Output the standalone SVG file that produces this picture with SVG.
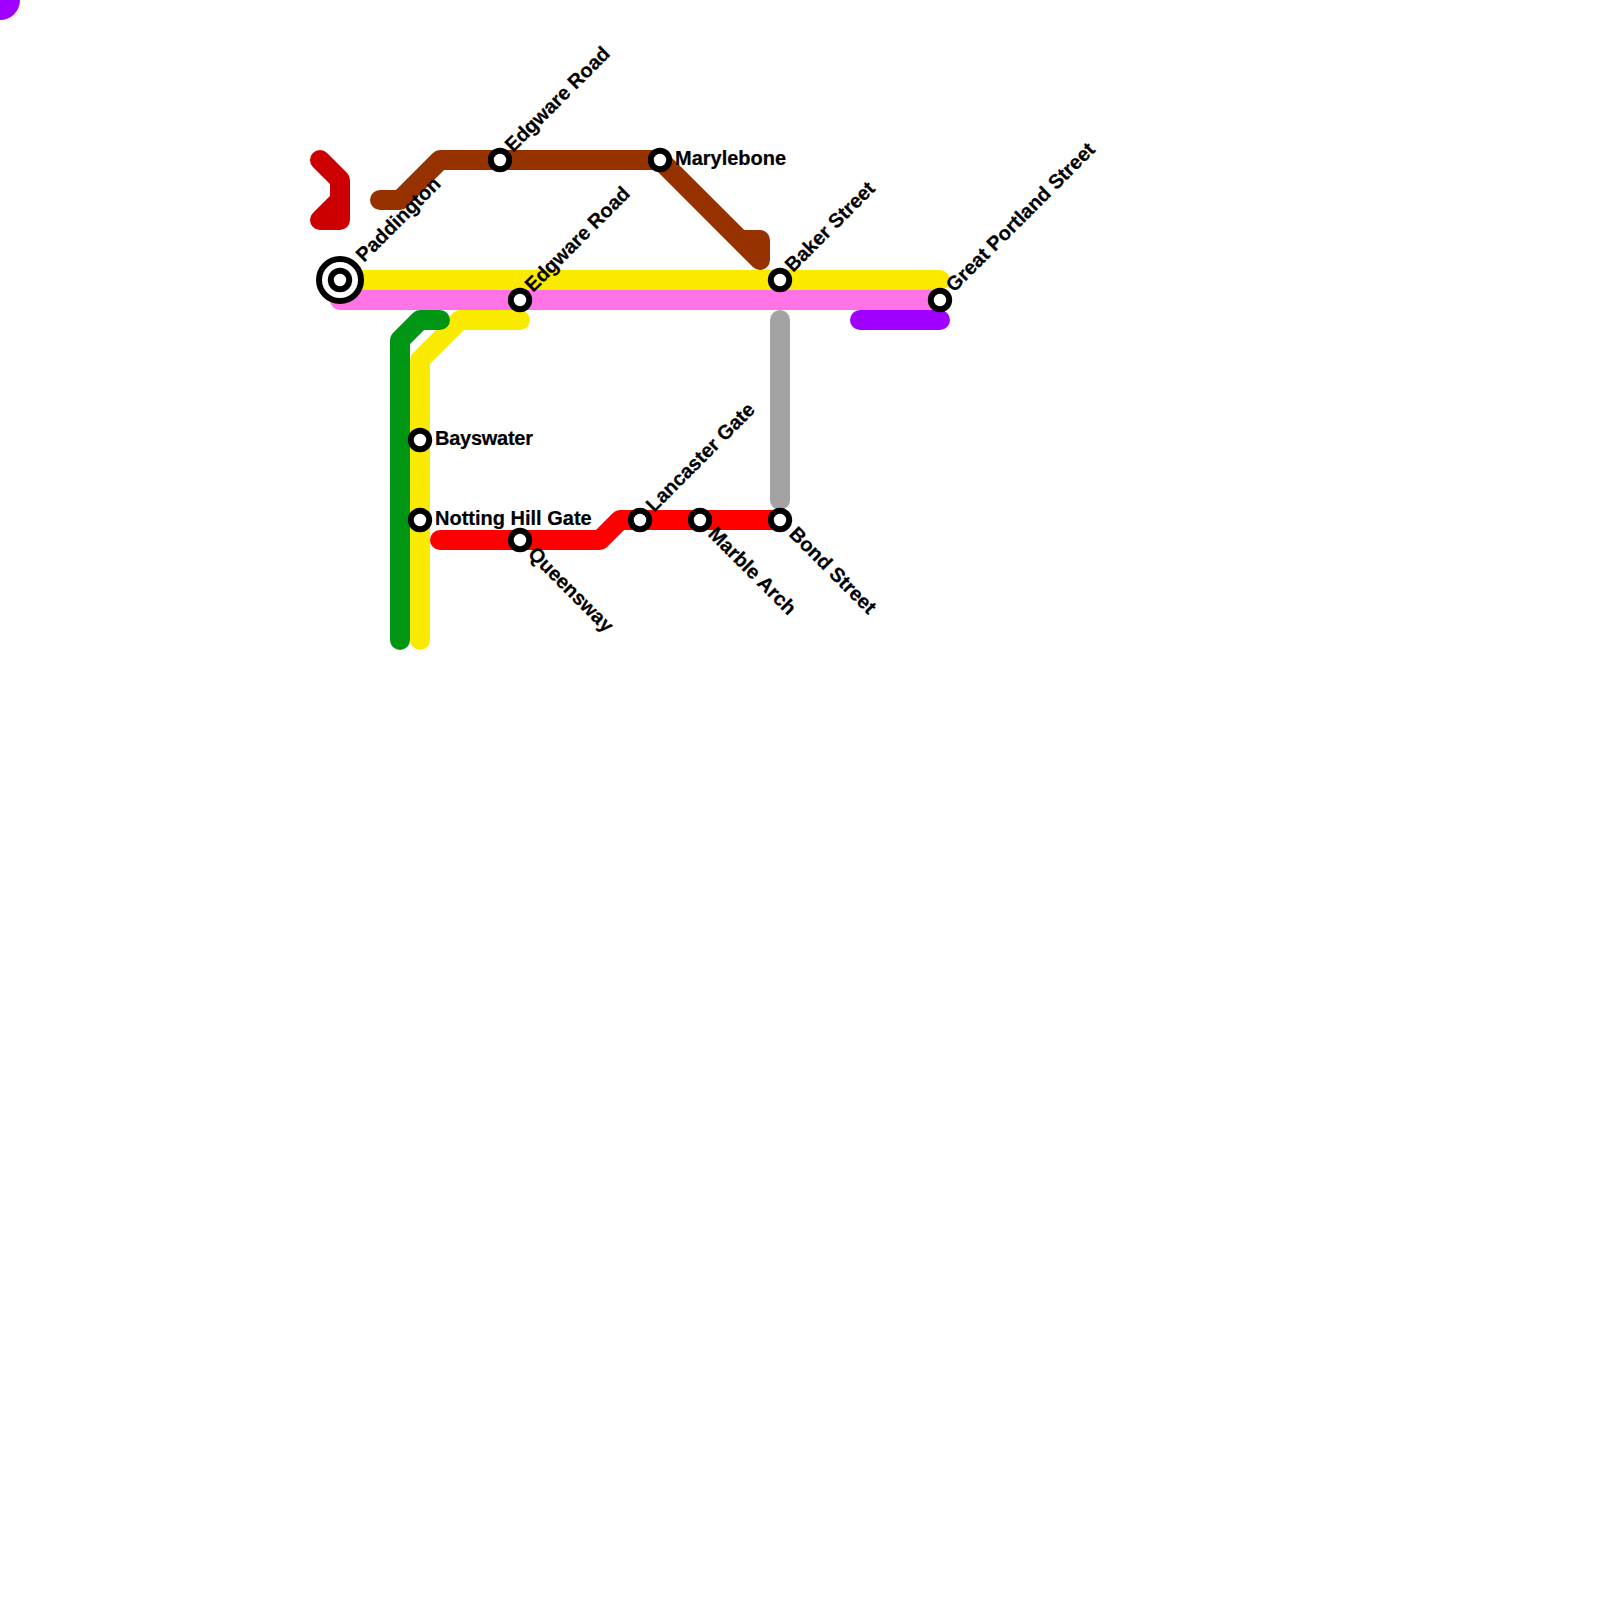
<svg xmlns="http://www.w3.org/2000/svg" width="1600" height="1600" viewBox="0 0 1600 1600">
<style>
.l{fill:none;stroke-width:20;stroke-linecap:round;stroke-linejoin:round}
.s{fill:#fff;stroke:#000;stroke-width:6}
.t{font-family:"Liberation Sans",Arial,sans-serif;font-size:20px;font-weight:bold;fill:#000;stroke:#000;stroke-width:.2}
</style>
<rect width="1600" height="1600" fill="#fff"/>
<g id="connectors">
<circle cx="0" cy="0" r="20" fill="#a000ff"/>
<polyline class="l" stroke="#cc0000" points="320,160 340,180 340,220 320,220 340,200"/>
<polyline class="l" stroke="#963200" points="380,200 400,200 440,160 660,160 760,260 760,240 740,240"/>
<polyline class="l" stroke="#faea00" points="340,280 940,280"/>
<polyline class="l" stroke="#ff73e6" points="340,300 940,300"/>
<polyline class="l" stroke="#faea00" points="420,640 420,360 460,320 520,320"/>
<polyline class="l" stroke="#009614" points="400,640 400,340 420,320 440,320"/>
<polyline class="l" stroke="#ff0000" points="440,540 600,540 620,520 780,520"/>
<polyline class="l" stroke="#a3a3a3" points="780,320 780,500"/>
<polyline class="l" stroke="#a000ff" points="860,320 940,320"/>
</g>
<g id="paddington"><circle cx="340" cy="280" r="21" class="s"/><circle cx="340" cy="280" r="9.2" class="s"/><text class="t" transform="translate(364,263) rotate(-45)">Paddington</text></g>
<g id="edgware-road-1"><circle cx="500" cy="160" r="9.2" class="s"/><text class="t" transform="translate(513,153) rotate(-45)">Edgware Road</text></g>
<g id="marylebone"><circle cx="660" cy="160" r="9.2" class="s"/><text class="t" x="675" y="165">Marylebone</text></g>
<g id="edgware-road-2"><circle cx="520" cy="300" r="9.2" class="s"/><text class="t" transform="translate(533,293) rotate(-45)">Edgware Road</text></g>
<g id="baker-street"><circle cx="780" cy="280" r="9.2" class="s"/><text class="t" transform="translate(793,273) rotate(-45)">Baker Street</text></g>
<g id="great-portland-street"><circle cx="940" cy="300" r="9.2" class="s"/><text class="t" transform="translate(954,293) rotate(-45)">Great Portland Street</text></g>
<g id="bayswater"><circle cx="420" cy="440" r="9.2" class="s"/><text class="t" x="435" y="445" textLength="98">Bayswater</text></g>
<g id="notting-hill-gate"><circle cx="420" cy="520" r="9.2" class="s"/><text class="t" x="435" y="525">Notting Hill Gate</text></g>
<g id="queensway"><circle cx="520" cy="540" r="9.2" class="s"/><text class="t" transform="translate(527,555) rotate(45)">Queensway</text></g>
<g id="lancaster-gate"><circle cx="640" cy="520" r="9.2" class="s"/><text class="t" transform="translate(654,513) rotate(-45)">Lancaster Gate</text></g>
<g id="marble-arch"><circle cx="700" cy="520" r="9.2" class="s"/><text class="t" transform="translate(707,535) rotate(45)">Marble Arch</text></g>
<g id="bond-street"><circle cx="780" cy="520" r="9.2" class="s"/><text class="t" transform="translate(788,535) rotate(45)">Bond Street</text></g>
</svg>
